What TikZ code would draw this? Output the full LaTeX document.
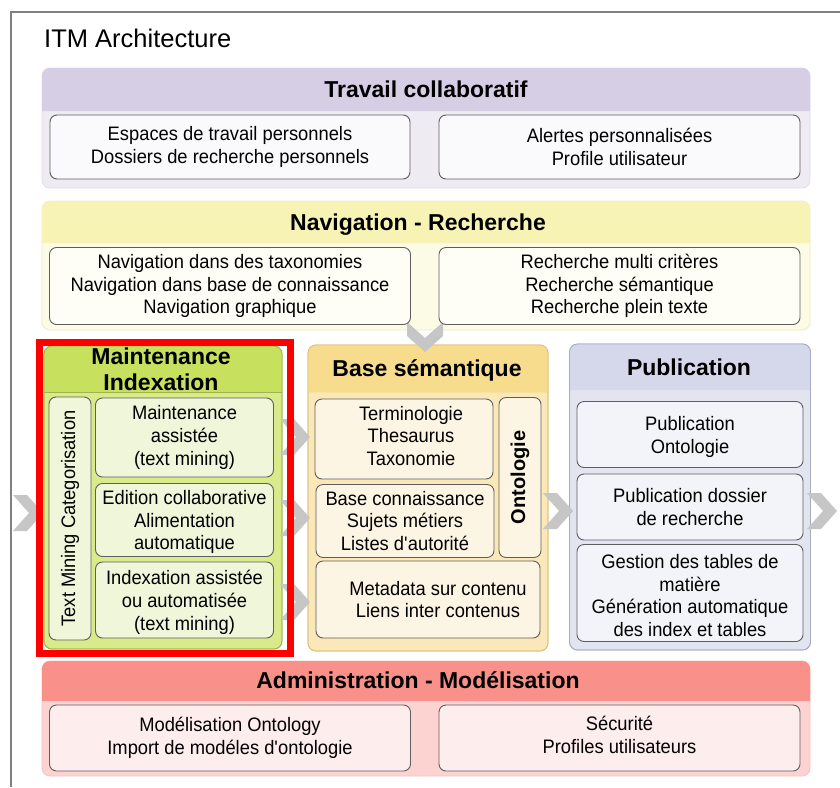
\documentclass[tikz,border=0pt]{standalone}
\usepackage{fontspec}
\setmainfont{Liberation Sans}
\newfontfamily\boxfont[FakeStretch=0.94]{Liberation Sans}
\definecolor{framegray}{HTML}{808080}
\definecolor{boxline}{HTML}{5E5E5E}
\definecolor{chevgray}{HTML}{C6C6C6}
% collaborative work (lavender)
\definecolor{lavH}{HTML}{D6CEE5}
\definecolor{lavB}{HTML}{EEEBF3}
\definecolor{lavI}{HTML}{FAF9FC}
\definecolor{lavL}{HTML}{E2DDEA}
% navigation (pale yellow)
\definecolor{yelH}{HTML}{F6F3B4}
\definecolor{yelB}{HTML}{FCFBE6}
\definecolor{yelI}{HTML}{FEFEF6}
\definecolor{yelL}{HTML}{EDEBC8}
% maintenance (green)
\definecolor{grnH}{HTML}{C7E05E}
\definecolor{grnB}{HTML}{D8EA8A}
\definecolor{grnI}{HTML}{EFF6DA}
\definecolor{grnL}{HTML}{9DB54C}
% semantic base (tan)
\definecolor{tanH}{HTML}{F7DC8E}
\definecolor{tanB}{HTML}{FBE8B9}
\definecolor{tanI}{HTML}{FDF5E4}
\definecolor{tanL}{HTML}{DDC07A}
% publication (blue grey)
\definecolor{bluH}{HTML}{D4D8EA}
\definecolor{bluB}{HTML}{E2E5F0}
\definecolor{bluI}{HTML}{F3F4F9}
\definecolor{bluL}{HTML}{A8ACBE}
% administration (red)
\definecolor{redH}{HTML}{F9918A}
\definecolor{redB}{HTML}{FCD3D1}
\definecolor{redI}{HTML}{FDEDEC}
\definecolor{redL}{HTML}{F2C2C0}
\definecolor{hilite}{HTML}{FF0000}

\tikzset{
  itext/.style={align=center, font=\boxfont\fontsize{19.5}{22.8}\selectfont, inner sep=0pt},
  ibox/.style={itext, draw=boxline, line width=0.9pt, rounded corners=7pt},
  grpbody/.style={rounded corners=8pt, line width=0.8pt, inner sep=0pt},
  hdr/.style={font=\fontsize{23}{26}\selectfont\bfseries, align=center, inner sep=0pt},
  chevron/.pic={\fill[chevgray] (-30,-18) -- (-16,-18) -- (0,0) -- (-16,18) -- (-30,18) -- (-14,0) -- cycle;},
}

\begin{document}
\begin{tikzpicture}[x=1pt,y=-1pt]
\useasboundingbox (0,0) rectangle (840,787);
\fill[white] (0,0) rectangle (840,787);

% outer frame
\draw[framegray, line width=2.5pt] (11,787) -- (11,12) -- (840,12);
\node[anchor=base west, font=\fontsize{25.5}{28}\selectfont, inner sep=0pt] (title) at (44,47) {ITM Architecture};

% ---- group bodies
\node[grpbody, fill=lavB, draw=lavL, minimum width=768pt, minimum height=120pt] (travail) at (426,128) {};
\node[grpbody, fill=yelB, draw=yelL, minimum width=768pt, minimum height=129pt] (nav) at (426,265.5) {};
\node[grpbody, fill=grnB, draw=grnL, minimum width=238pt, minimum height=303pt] (maint) at (163,497.5) {};
\node[grpbody, fill=tanB, draw=tanL, minimum width=240pt, minimum height=306pt] (sem) at (428,498) {};
\node[grpbody, fill=bluB, draw=bluL, minimum width=241pt, minimum height=306pt] (pub) at (690,497) {};
\node[grpbody, fill=redB, draw=redL, minimum width=768pt, minimum height=115pt] (admin) at (426,718.5) {};

% ---- header bands
\fill[lavH] (42,111) [rounded corners=8pt] -- (42,68) -- (810,68) [sharp corners] -- (810,111) -- cycle;
\fill[yelH] (42,243) [rounded corners=8pt] -- (42,201) -- (810,201) [sharp corners] -- (810,243) -- cycle;
\fill[grnH] (44,392.5) [rounded corners=8pt] -- (44,346) -- (282,346) [sharp corners] -- (282,392.5) -- cycle;
\draw[grnL, line width=0.8pt] (44,392.5) -- (282,392.5);
\fill[tanH] (308,392.5) [rounded corners=8pt] -- (308,345) -- (548,345) [sharp corners] -- (548,392.5) -- cycle;
\fill[bluH] (569.5,390) [rounded corners=8pt] -- (569.5,344) -- (810.5,344) [sharp corners] -- (810.5,390) -- cycle;
\fill[redH] (42,701) [rounded corners=8pt] -- (42,661) -- (810,661) [sharp corners] -- (810,701) -- cycle;
\draw[grnL, line width=0.8pt, rounded corners=8pt] (44,346) rectangle (282,649);
\draw[tanL, line width=0.8pt, rounded corners=8pt] (308,345) rectangle (548,651);
\draw[bluL, line width=0.8pt, rounded corners=8pt] (569.5,344) rectangle (810.5,650);

\node[hdr] (travailH) at (426,89.5) {Travail collaboratif};
\node[hdr] (navH) at (418,224.5) {Navigation - Recherche};
\node[hdr] (maintH) at (161,369) {Maintenance\\Indexation};
\node[hdr] (semH) at (427,370) {Base sémantique};
\node[hdr] (pubH) at (689,367) {Publication};
\node[hdr] (adminH) at (418,680) {Administration - Modélisation};

% ---- flow chevrons
\pic at (43,513) {chevron};
\pic at (310,437) {chevron};
\pic at (310,518) {chevron};
\pic at (310,602) {chevron};
\pic at (573,511) {chevron};
\pic at (837,511) {chevron};
\pic[rotate=-90] at (425,352) {chevron};

% ---- collaborative work
\node[ibox, fill=lavI, minimum width=360pt, minimum height=64pt] (espaces) at (230,147) {Espaces de travail personnels\\Dossiers de recherche personnels};
\node[ibox, fill=lavI, minimum width=361pt, minimum height=64pt] (alertes) at (619.5,147) {Alertes personnalisées\\Profile utilisateur};

% ---- navigation / search
\node[ibox, fill=yelI, minimum width=361pt, minimum height=77pt] (navtax) at (230,286) {Navigation dans des taxonomies\\Navigation dans base de connaissance\\Navigation graphique};
\node[ibox, fill=yelI, minimum width=361pt, minimum height=77pt] (rech) at (619.5,286) {Recherche multi critères\\Recherche sémantique\\Recherche plein texte};

% ---- maintenance / indexing
\node[ibox, fill=grnI, rotate=90, minimum width=243pt, minimum height=42pt] (textmining) at (70,518.5) {Text Mining Categorisation};
\node[ibox, fill=grnI, minimum width=178pt, minimum height=79pt] (mass) at (184.5,437.5) {Maintenance\\assistée\\(text mining)};
\node[ibox, fill=grnI, minimum width=178pt, minimum height=73pt] (edit) at (184.5,520) {};
\node[itext] (editT) at (184.5,522) {Edition collaborative\\Alimentation\\automatique};
\node[ibox, fill=grnI, minimum width=178pt, minimum height=76pt] (indx) at (184.5,600) {};
\node[itext] (indxT) at (184.5,602.5) {Indexation assistée\\ou automatisée\\(text mining)};

% ---- semantic base
\node[ibox, fill=tanI, minimum width=178pt, minimum height=80pt] (termino) at (404,439) {};
\node[itext] (terminoT) at (411,436) {Terminologie\\Thesaurus\\Taxonomie};
\node[ibox, fill=tanI, minimum width=178pt, minimum height=73pt] (basec) at (405,521) {Base connaissance\\Sujets métiers\\Listes d\textquotesingle autorité};
\node[ibox, fill=tanI, rotate=90, minimum width=160pt, minimum height=42pt, font=\fontsize{20}{22}\selectfont\bfseries] (onto) at (520,477.5) {Ontologie};
\node[ibox, fill=tanI, minimum width=224pt, minimum height=77pt] (meta) at (428,599.5) {\hspace*{20pt}Metadata sur contenu\\\hspace*{20pt}Liens inter contenus};

% ---- publication
\node[ibox, fill=bluI, minimum width=226pt, minimum height=66pt] (pubonto) at (690,434.5) {};
\node[itext] (pubontoT) at (690,437) {Publication\\Ontologie};
\node[ibox, fill=bluI, minimum width=226pt, minimum height=66pt] (pubdos) at (690,507) {Publication dossier\\de recherche};
\node[ibox, fill=bluI, minimum width=226pt, minimum height=97pt] (gestion) at (690,593) {};
\node[itext] (gestionT) at (690,595.5) {Gestion des tables de\\matière\\Génération automatique\\des index et tables};

% ---- administration / modelling
\node[ibox, fill=redI, minimum width=361pt, minimum height=66pt] (model) at (230,738) {Modélisation Ontology\\Import de modéles d\textquotesingle ontologie};
\node[ibox, fill=redI, minimum width=361pt, minimum height=66pt] (secu) at (619.5,738) {};
\node[itext] (secuT) at (619.5,735) {Sécurité\\Profiles utilisateurs};

% ---- highlight around the maintenance column
\node[draw=hilite, line width=7pt, minimum width=251pt, minimum height=311pt, inner sep=0pt] (focus) at (164.5,497.5) {};
\end{tikzpicture}
\end{document}
